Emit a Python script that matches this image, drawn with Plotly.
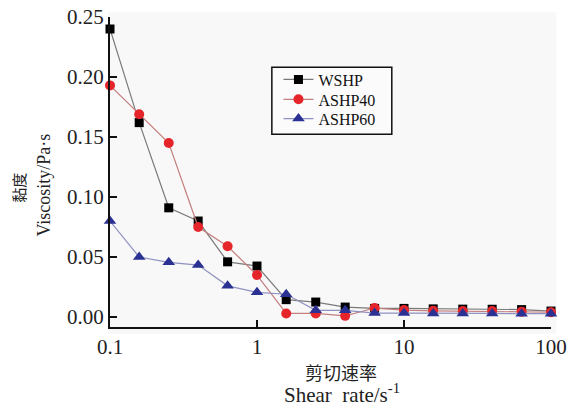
import plotly.graph_objects as go

shear_rate = [0.1, 0.158, 0.251, 0.398, 0.631, 1.0, 1.58, 2.51, 3.98, 6.31,
              10.0, 15.8, 25.1, 39.8, 63.1, 100.0]
wshp = [0.240, 0.162, 0.091, 0.080, 0.046, 0.0425, 0.0145, 0.0125, 0.0083, 0.0072,
        0.0072, 0.0068, 0.0066, 0.0065, 0.0062, 0.0050]
ashp40 = [0.193, 0.169, 0.145, 0.075, 0.059, 0.035, 0.003, 0.003, 0.001, 0.0075,
          0.0058, 0.0052, 0.0050, 0.0050, 0.0045, 0.0040]
ashp60 = [0.080, 0.050, 0.0456, 0.0433, 0.026, 0.0206, 0.019, 0.0056, 0.0056, 0.0033,
          0.0033, 0.0030, 0.0030, 0.0030, 0.0028, 0.0028]

x_ticks = [0.1, 1, 10, 100]
x_ticktext = ["0.1", "1", "10", "100"]
y_ticks = [0.0, 0.05, 0.10, 0.15, 0.20, 0.25]

SERIF = "Liberation Serif, Times New Roman, serif"
CJK = "Noto Sans CJK SC"

fig = go.Figure()
series = [
    ("WSHP", wshp, "#7a7a7a", "#000000", "square", 9, "legend"),
    ("ASHP40", ashp40, "#c47f7f", "#e6252b", "circle", 10, "legend2"),
    ("ASHP60", ashp60, "#8f91c0", "#2b3192", "triangle-up", 11, "legend3"),
]
for name, vals, lc, mc, sym, ms, lg in series:
    fig.add_trace(go.Scatter(
        x=shear_rate, y=vals, name=name, mode="lines+markers",
        line=dict(color=lc, width=1.2),
        marker=dict(symbol=sym, size=ms, color=mc, line=dict(width=0)),
        cliponaxis=False, legend=lg,
    ))

def leg(ypos):
    return dict(
        x=0.382, y=ypos, xanchor="left", yanchor="top",
        bgcolor="rgba(0,0,0,0)", borderwidth=0,
        font=dict(family=SERIF, size=16, color="#111111"),
        itemwidth=30, tracegroupgap=0,
    )

fig.update_layout(
    width=568, height=404,
    margin=dict(l=110, r=17, t=17, b=77, autoexpand=False),
    paper_bgcolor="white",
    plot_bgcolor="#f8f8f8",
    font=dict(family=SERIF, size=20, color="#222222"),
    showlegend=True,
    legend=leg(0.853),
    legend2=leg(0.789),
    legend3=leg(0.727),
    shapes=[
        dict(type="rect", xref="paper", yref="paper",
             x0=-0.005, x1=1.012, y0=-0.022, y1=1.015,
             fillcolor="#f8f8f8", line=dict(width=0), layer="below"),
        dict(type="rect", xref="paper", yref="paper",
             x0=0.367, x1=0.639, y0=0.622, y1=0.838,
             fillcolor="#fbfbfb", line=dict(width=1.5, color="#111111"), layer="above"),
    ],
    annotations=[
        dict(text="剪切速率", xref="paper", yref="paper", x=0.524, y=-0.146,
             xanchor="center", yanchor="middle", showarrow=False,
             font=dict(family=CJK, size=18, color="#222222")),
        dict(text="Shear  rate/s<sup>-1</sup>", xref="paper", yref="paper", x=0.527, y=-0.215,
             xanchor="center", yanchor="middle", showarrow=False,
             font=dict(family=SERIF, size=21, color="#222222")),
        dict(text="黏度", xref="paper", yref="paper", x=-0.208, y=0.45,
             xanchor="center", yanchor="middle", textangle=-90, showarrow=False,
             font=dict(family=CJK, size=15, color="#222222")),
        dict(text="Viscosity/Pa·s", xref="paper", yref="paper", x=-0.149, y=0.457,
             xanchor="center", yanchor="middle", textangle=-90, showarrow=False,
             font=dict(family=SERIF, size=18, color="#222222")),
    ],
)
fig.update_xaxes(
    type="log", range=[-1, 2],
    tickvals=x_ticks, ticktext=x_ticktext,
    ticks="inside", ticklen=7, tickwidth=1.5, tickcolor="#111111",
    showline=True, linecolor="#111111", linewidth=2,
    showgrid=False, zeroline=False, mirror=False,
    tickfont=dict(family=SERIF, size=21, color="#222222"),
)
fig.update_yaxes(
    range=[-0.0083, 0.25],
    tickvals=y_ticks, tickformat=".2f",
    ticks="inside", ticklen=7, tickwidth=1.5, tickcolor="#111111",
    showline=True, linecolor="#111111", linewidth=2,
    showgrid=False, zeroline=False, mirror=False,
    tickfont=dict(family=SERIF, size=21, color="#222222"),
)

fig.write_html("out.html", config={"displayModeBar": False},
               post_script="document.body.style.margin='0';")
